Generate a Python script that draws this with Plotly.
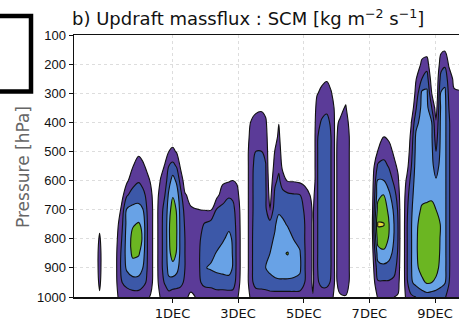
import plotly.graph_objects as go

# Pressure levels (hPa)
pressure = [100, 150, 200, 250, 300, 350, 400, 450, 500, 550, 600, 650, 700, 750, 800, 850, 900, 950, 1000]

# Updraft mass flux, units of 1e-2 kg m-2 s-1; each profile runs 100 -> 1000 hPa.
# Time in days relative to 1 Dec 1992 00Z.
times_nov28 = [-3.00, -2.40, -2.22, -2.06]
flux_nov28 = [
    [0] * 19,
    [0] * 19,
    [0, 0, 0, 0, 0, 0, 0, 0, 0, 0, 0, 0, 0.3, 0.75, 1.15, 1.35, 1.35, 1.2, 0.85],
    [0] * 19,
]

times_nov29 = [-1.82, -1.58, -1.39, -1.21, -1.03, -0.91, -0.78, -0.66, -0.51]
flux_nov29 = [
    [0] * 19,
    [0, 0, 0, 0, 0, 0, 0, 0, 0, 0, 0, 0.3, 1.0, 1.4, 1.7, 1.95, 2.0, 1.9, 1.5],
    [0, 0, 0, 0, 0, 0, 0, 0, 0, 0.3, 0.8, 1.9, 3.1, 3.3, 3.4, 3.4, 3.2, 2.3, 1.5],
    [0, 0, 0, 0, 0, 0, 0, 0, 0.4, 0.95, 1.6, 2.4, 3.3, 3.9, 4.3, 4.2, 3.6, 2.6, 1.5],
    [0, 0, 0, 0, 0, 0, 0, 0.3, 0.8, 1.4, 1.9, 2.6, 3.3, 4.1, 4.5, 4.1, 3.5, 2.6, 1.5],
    [0, 0, 0, 0, 0, 0, 0, 0, 0.6, 1.2, 1.7, 2.3, 3.1, 3.8, 3.9, 3.6, 3.05, 2.3, 1.4],
    [0, 0, 0, 0, 0, 0, 0, 0, 0.3, 0.8, 1.3, 1.8, 2.0, 2.1, 2.1, 2.1, 2.05, 1.9, 1.2],
    [0, 0, 0, 0, 0, 0, 0, 0, 0, 0.5, 0.9, 1.2, 1.35, 1.35, 1.35, 1.35, 1.35, 1.3, 0.9],
    [0, 0, 0, 0, 0, 0, 0, 0, 0, 0, 0, 0.4, 0.4, 0.4, 0.4, 0.4, 0.4, 0.4, 0.3],
]

times_dec1 = [-0.36, -0.23, -0.11, 0.01, 0.13, 0.25, 0.38, 0.56]
flux_dec1 = [
    [0, 0, 0, 0, 0, 0, 0, 0, 0, 0.5, 1.1, 1.5, 1.8, 1.8, 1.8, 1.8, 1.8, 1.6, 1.1],
    [0, 0, 0, 0, 0, 0, 0, 0, 0.5, 1.1, 1.5, 2.0, 2.2, 2.3, 2.3, 2.3, 2.3, 2.1, 1.4],
    [0, 0, 0, 0, 0, 0, 0, 0.5, 1.0, 2.0, 2.6, 3.2, 3.6, 3.8, 3.8, 3.7, 3.4, 2.7, 1.5],
    [0, 0, 0, 0, 0, 0, 0, 0.5, 1.2, 2.3, 3.4, 3.9, 4.5, 4.9, 4.9, 4.5, 3.6, 2.6, 1.3],
    [0, 0, 0, 0, 0, 0, 0, 0.3, 0.9, 1.9, 2.8, 3.5, 3.9, 4.0, 4.0, 3.9, 3.3, 2.5, 1.3],
    [0, 0, 0, 0, 0, 0, 0, 0, 0.3, 0.8, 1.6, 2.3, 2.6, 2.7, 2.7, 2.7, 2.6, 2.3, 1.3],
    [0, 0, 0, 0, 0, 0, 0, 0, 0, 0, 0.5, 1.1, 1.7, 1.9, 2.0, 2.0, 2.0, 1.8, 1.1],
    [0, 0, 0, 0, 0, 0, 0, 0, 0, 0, 0, 0.7, 1.1, 1.3, 1.4, 1.4, 1.3, 1.2, 0.9],
]

times_dec2 = [0.83, 0.98, 1.17, 1.35, 1.53, 1.72, 1.84, 1.96, 2.20]
flux_dec2 = [
    [0, 0, 0, 0, 0, 0, 0, 0, 0, 0, 0, 0.5, 1.0, 1.6, 1.9, 2.0, 2.0, 1.9, 1.1],
    [0, 0, 0, 0, 0, 0, 0, 0, 0, 0, 0, 0.5, 0.95, 2.1, 2.5, 2.7, 2.95, 2.3, 1.3],
    [0, 0, 0, 0, 0, 0, 0, 0, 0, 0, 0, 0.4, 0.9, 2.4, 2.6, 2.8, 3.1, 2.4, 1.3],
    [0, 0, 0, 0, 0, 0, 0, 0, 0, 0, 0.3, 0.7, 2.1, 2.5, 2.7, 3.05, 3.2, 2.6, 1.4],
    [0, 0, 0, 0, 0, 0, 0, 0, 0, 0.3, 0.8, 1.5, 2.3, 2.6, 2.9, 3.3, 3.3, 2.6, 1.4],
    [0, 0, 0, 0, 0, 0, 0, 0, 0, 0.4, 0.9, 1.9, 2.4, 2.8, 3.2, 3.3, 3.3, 2.7, 1.4],
    [0, 0, 0, 0, 0, 0, 0, 0, 0, 0.4, 1.0, 1.8, 2.3, 2.6, 2.9, 2.95, 2.95, 2.6, 1.4],
    [0, 0, 0, 0, 0, 0, 0, 0, 0, 0.3, 0.9, 1.3, 1.6, 1.7, 1.75, 1.75, 1.75, 1.6, 1.2],
    [0] * 19,
]

times_dec3 = [2.39, 2.54, 2.72, 2.84, 2.97, 3.12, 3.24, 3.36, 3.51, 3.70, 3.88, 4.03, 4.19, 4.28]
flux_dec3 = [
    [0, 0, 0, 0, 0, 0.5, 1.05, 1.4, 1.7, 1.7, 1.7, 1.7, 1.7, 1.7, 1.7, 1.7, 1.7, 1.7, 1.2],
    [0, 0, 0, 0, 0.3, 0.8, 1.3, 1.6, 2.0, 2.3, 2.4, 2.4, 2.4, 2.5, 2.6, 2.6, 2.6, 2.4, 1.4],
    [0, 0, 0, 0, 0.3, 0.85, 1.4, 1.7, 2.0, 2.4, 2.5, 2.5, 2.6, 2.7, 2.8, 2.85, 2.9, 2.5, 1.4],
    [0, 0, 0, 0, 0, 0.6, 1.2, 1.5, 1.8, 2.05, 2.1, 2.15, 2.2, 2.5, 2.8, 2.95, 3.0, 2.6, 1.4],
    [0, 0, 0, 0, 0, 0, 0, 0, 0, 0, 0.3, 0.6, 0.9, 2.4, 2.8, 3.0, 3.2, 2.7, 1.5],
    [0, 0, 0, 0, 0, 0, 0, 0.4, 1.05, 1.4, 1.8, 2.2, 2.6, 2.9, 3.1, 3.3, 3.4, 2.8, 1.5],
    [0, 0, 0, 0, 0, 0.3, 0.95, 1.3, 1.6, 1.8, 2.2, 2.5, 2.85, 3.3, 3.6, 3.8, 3.6, 2.8, 1.5],
    [0, 0, 0, 0, 0, 0, 0, 0, 0.3, 0.7, 1.5, 2.3, 2.7, 3.2, 3.6, 3.9, 3.6, 2.8, 1.5],
    [0, 0, 0, 0, 0, 0, 0, 0, 0, 0.4, 0.9, 2.2, 2.5, 2.9, 3.5, 4.05, 3.6, 2.8, 1.5],
    [0, 0, 0, 0, 0, 0, 0, 0, 0, 0.4, 0.9, 2.1, 2.4, 2.7, 2.95, 3.5, 3.4, 2.8, 1.5],
    [0, 0, 0, 0, 0, 0, 0, 0, 0, 0.3, 0.8, 2.05, 2.3, 2.5, 2.7, 3.1, 3.2, 2.7, 1.5],
    [0, 0, 0, 0, 0, 0, 0, 0, 0, 0.2, 0.7, 1.5, 1.9, 2.0, 2.0, 2.05, 2.05, 2.0, 1.4],
    [0, 0, 0, 0, 0, 0, 0, 0, 0, 0, 0.3, 1.0, 1.3, 1.3, 1.3, 1.3, 1.3, 1.3, 1.2],
    [0, 0, 0, 0, 0, 0, 0, 0, 0, 0, 0, 0.6, 0.85, 0.85, 0.85, 0.85, 0.85, 0.85, 1.05],
]

times_dec5 = [4.40, 4.55, 4.70, 4.83, 4.96, 5.10, 5.28, 5.43, 5.59, 6.05]
flux_dec5 = [
    [0, 0, 0, 0.3, 0.9, 1.4, 1.7, 1.9, 1.9, 1.9, 1.9, 1.9, 1.9, 1.9, 1.9, 1.9, 1.9, 1.8, 1.3],
    [0, 0, 0.2, 0.7, 1.3, 1.7, 2.1, 2.4, 2.5, 2.5, 2.5, 2.5, 2.5, 2.5, 2.5, 2.5, 2.5, 2.3, 1.4],
    [0, 0, 0.3, 0.9, 1.4, 1.85, 2.2, 2.5, 2.5, 2.5, 2.5, 2.5, 2.5, 2.5, 2.5, 2.5, 2.5, 2.3, 1.4],
    [0, 0, 0.1, 0.6, 1.1, 1.5, 1.9, 2.0, 2.0, 2.0, 2.0, 2.0, 2.0, 2.0, 2.0, 2.0, 2.0, 1.9, 1.3],
    [0, 0, 0, 0, 0.5, 0.8, 0.8, 0.8, 0.8, 0.8, 0.8, 0.8, 0.8, 0.8, 0.8, 0.8, 0.8, 0.8, 0.7],
    [0, 0, 0, 0, 0.2, 0.7, 1.1, 1.3, 1.4, 1.4, 1.4, 1.4, 1.4, 1.4, 1.4, 1.4, 1.4, 1.3, 0.9],
    [0, 0, 0, 0.2, 0.6, 1.1, 1.4, 1.5, 1.5, 1.5, 1.5, 1.5, 1.5, 1.5, 1.5, 1.5, 1.5, 1.4, 0.95],
    [0, 0, 0, 0, 0, 0, 0.6, 0.8, 0.8, 0.8, 0.8, 0.8, 0.8, 0.8, 0.8, 0.8, 0.8, 0.8, 0.5],
    [0] * 19,
    [0] * 19,
]

times_dec7 = [6.26, 6.44, 6.60, 6.75, 6.87, 6.99]
flux_dec7 = [
    [0, 0, 0, 0, 0, 0, 0, 0.5, 1.05, 2.2, 3.1, 3.7, 4.4, 5.1, 4.5, 3.5, 2.6, 1.9, 1.1],
    [0, 0, 0, 0, 0, 0, 0.4, 1.0, 1.6, 2.3, 3.0, 4.05, 4.4, 5.05, 4.5, 3.8, 2.7, 1.9, 1.1],
    [0, 0, 0, 0, 0, 0, 0.2, 0.8, 1.4, 1.9, 2.5, 3.2, 3.8, 4.0, 3.9, 3.4, 2.6, 1.9, 1.1],
    [0, 0, 0, 0, 0, 0, 0, 0.3, 0.8, 1.3, 1.8, 2.4, 2.8, 3.0, 2.95, 2.7, 2.3, 1.8, 1.0],
    [0, 0, 0, 0, 0, 0, 0, 0, 0.3, 0.8, 1.2, 1.6, 1.9, 2.0, 2.0, 1.9, 1.7, 1.4, 0.9],
    [0] * 19,
]

times_dec8 = [7.14, 7.27, 7.42, 7.60, 7.75, 7.90, 8.03, 8.18, 8.30, 8.42, 8.58, 8.73]
flux_dec8 = [
    [0, 0, 0, 0, 0, 0, 0, 0, 0.2, 0.6, 1.2, 1.6, 1.8, 1.9, 1.9, 1.9, 1.9, 1.8, 1.4],
    [0, 0, 0, 0, 0, 0.2, 0.9, 1.3, 1.6, 1.9, 2.3, 2.6, 2.8, 2.9, 2.9, 2.9, 2.9, 2.85, 1.8],
    [0, 0, 0.3, 0.95, 1.3, 1.9, 2.7, 3.2, 3.3, 3.4, 3.5, 3.6, 3.7, 3.8, 3.85, 3.85, 3.8, 3.3, 2.0],
    [0, 0.6, 1.2, 2.0, 3.2, 3.3, 3.4, 3.4, 3.5, 3.5, 3.6, 3.8, 4.1, 4.4, 4.5, 4.5, 4.3, 3.8, 2.3],
    [0, 0.5, 1.5, 2.5, 3.2, 3.3, 3.3, 3.3, 3.4, 3.4, 3.5, 3.8, 4.2, 4.6, 4.7, 4.7, 4.5, 4.1, 2.5],
    [0, 0, 0, 0.4, 1.0, 2.0, 3.0, 3.1, 3.2, 3.3, 3.4, 3.8, 4.3, 4.6, 4.7, 4.6, 4.4, 4.0, 2.4],
    [0, 0, 0, 0, 0, 0.5, 1.1, 1.5, 2.0, 2.5, 3.1, 3.6, 4.0, 4.3, 4.4, 4.4, 4.3, 3.8, 2.3],
    [0.3, 0.8, 1.5, 2.4, 3.1, 3.2, 3.3, 3.3, 3.3, 3.4, 3.5, 3.6, 3.8, 3.95, 3.9, 3.85, 3.7, 3.4, 2.2],
    [0.4, 0.9, 1.8, 2.7, 3.2, 3.3, 3.3, 3.3, 3.3, 3.3, 3.3, 3.3, 3.3, 3.3, 3.3, 3.3, 3.3, 3.1, 2.1],
    [0, 0.4, 0.9, 1.5, 1.8, 2.0, 2.1, 2.1, 2.1, 2.1, 2.1, 2.1, 2.1, 2.1, 2.1, 2.1, 2.1, 2.05, 1.6],
    [0, 0, 0.4, 0.8, 1.1, 1.3, 1.5, 1.5, 1.5, 1.5, 1.5, 1.5, 1.5, 1.5, 1.5, 1.5, 1.5, 1.5, 1.3],
    [0, 0, 0.3, 0.6, 1.1, 1.4, 1.6, 1.6, 1.6, 1.6, 1.6, 1.6, 1.6, 1.6, 1.6, 1.6, 1.6, 1.6, 1.4],
]

contour_levels = [1, 2, 3, 4, 5]
tick_days = [0, 2, 4, 6, 8]
tick_labels = ["1DEC<br>1992", "3DEC", "5DEC", "7DEC", "9DEC"]
pressure_ticks = [100, 200, 300, 400, 500, 600, 700, 800, 900, 1000]

days = (times_nov28 + times_nov29 + times_dec1 + times_dec2 + times_dec3
        + times_dec5 + times_dec7 + times_dec8)
profiles = (flux_nov28 + flux_nov29 + flux_dec1 + flux_dec2 + flux_dec3
            + flux_dec5 + flux_dec7 + flux_dec8)
z = [[profiles[j][i] for j in range(len(days))] for i in range(len(pressure))]

colorscale = [
    [0.0, "rgba(255,255,255,0)"],
    [0.2, "#5b3b98"],
    [0.4, "#3c58a8"],
    [0.6, "#68a2e6"],
    [0.8, "#6bb622"],
    [1.0, "#e4dc3a"],
]

fig = go.Figure(go.Contour(
    x=days, y=pressure, z=z,
    contours=dict(start=contour_levels[0], end=contour_levels[-1], size=1,
                  coloring="fill", showlines=True),
    line=dict(color="#111111", width=1.1, smoothing=1.0),
    colorscale=colorscale, showscale=False, hoverinfo="skip",
))

fig.update_layout(
    template="none",
    width=459, height=325,
    margin=dict(l=74, r=0, t=35, b=28, pad=0),
    paper_bgcolor="white", plot_bgcolor="white",
    showlegend=False,
    title=dict(text="b) Updraft massflux : SCM [kg m<sup>−2</sup> s<sup>−1</sup>]",
               x=72 / 459, xanchor="left", xref="container",
               y=1 - 19 / 325, yanchor="middle", yref="container",
               pad=dict(l=0, r=0, t=0, b=0), automargin=False,
               font=dict(family="DejaVu Sans", size=18, color="#111111")),
    xaxis=dict(range=[-3.0, 8.73], tickvals=tick_days, ticktext=tick_labels,
               ticks="outside", ticklen=4, tickcolor="#111111", tickwidth=1,
               showline=True, linecolor="#111111", linewidth=1.5, mirror=True,
               showgrid=True, gridcolor="#dddddd", griddash="dot", gridwidth=1,
               zeroline=False, automargin=False,
               tickfont=dict(family="DejaVu Sans", size=13, color="#111111")),
    yaxis=dict(range=[1000, 100], tickvals=pressure_ticks,
               ticks="outside", ticklen=4, tickcolor="#111111", tickwidth=1,
               showline=True, linecolor="#111111", linewidth=1.5,
               showgrid=True, gridcolor="#dddddd", griddash="dot", gridwidth=1,
               zeroline=False, automargin=False,
               tickfont=dict(family="Liberation Sans", size=13, color="#111111")),
    annotations=[dict(text="Pressure [hPa]", textangle=-90,
                      xref="paper", yref="paper",
                      x=(23 - 74) / 385, y=(297 - 167) / 262,
                      xanchor="center", yanchor="middle", showarrow=False,
                      font=dict(family="DejaVu Sans", size=17, color="#666666"))],
    shapes=[dict(type="rect", xref="paper", yref="paper",
                 x0=-0.5, x1=(31 - 74) / 385,
                 y0=(297 - 91.5) / 262, y1=(297 - 16) / 262,
                 line=dict(color="black", width=4.5), fillcolor="rgba(0,0,0,0)")],
)

fig.write_html("out.html",
               config={"displayModeBar": False, "staticPlot": True},
               post_script="document.body.style.margin='0';document.body.style.overflow='hidden';")
